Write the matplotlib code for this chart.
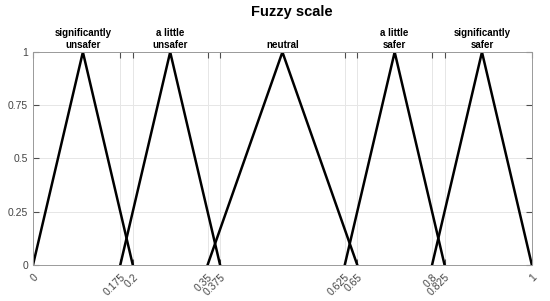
import numpy as np
import matplotlib.pyplot as plt

# ---- data: triangular membership functions (left, peak, right) ----
terms = ['significantly\nunsafer', 'a little\nunsafer', 'neutral', 'a little\nsafer', 'significantly\nsafer']
lefts = [0.0, 0.175, 0.35, 0.625, 0.8]
peaks = [0.1, 0.275, 0.5, 0.725, 0.9]
rights = [0.2, 0.375, 0.65, 0.825, 1.0]
x_ticks = [0, 0.175, 0.2, 0.35, 0.375, 0.625, 0.65, 0.8, 0.825, 1]
x_tick_labels = ['0', '0.175', '0.2', '0.35', '0.375', '0.625', '0.65', '0.8', '0.825', '1']
y_ticks = [0, 0.25, 0.5, 0.75, 1]
y_tick_labels = ['0', '0.25', '0.5', '0.75', '1']

plt.rcParams['font.family'] = 'Liberation Sans'

fig = plt.figure(figsize=(5.5, 3.01), dpi=100)
ax = fig.add_axes([0.06, 0.12, 0.907, 0.707])

for lo, pk, hi, name in zip(lefts, peaks, rights, terms):
    ax.plot([lo, pk, hi], [0, 1, 0], color='black', lw=1.8)
    ax.text(pk, 1.01, name, ha='center', va='bottom', fontsize=7, fontweight='bold')

ax.set_xlim(0, 1)
ax.set_ylim(0, 1)
ax.set_xticks(x_ticks)
ax.set_xticklabels(x_tick_labels, rotation=45, ha='right', rotation_mode='anchor')
ax.set_yticks(y_ticks)
ax.set_yticklabels(y_tick_labels)
ax.grid(True, color='#e6e6e6', lw=0.7)
ax.set_axisbelow(True)
ax.tick_params(direction='in', length=4, colors='#4d4d4d', labelsize=7.5,
               top=True, right=True, labelcolor='#444444')
ax.tick_params(axis='x', pad=5)
for s in ax.spines.values():
    s.set_color('#9a9a9a')
    s.set_linewidth(0.7)

fig.suptitle('Fuzzy scale', x=0.53, y=0.985, fontsize=10.5, fontweight='bold')

fig.savefig('out.png', dpi=100)
